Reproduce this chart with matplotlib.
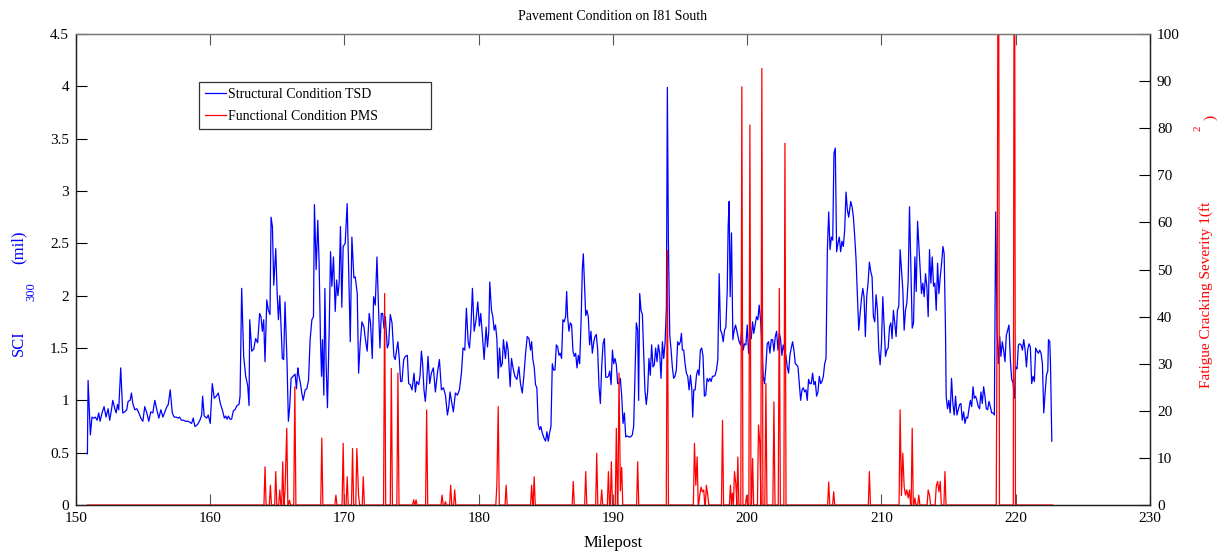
import numpy as np
import matplotlib
matplotlib.use('Agg')
import matplotlib.pyplot as plt

plt.rcParams['font.family'] = ['Liberation Serif', 'DejaVu Serif']
plt.rcParams['mathtext.fontset'] = 'custom'
plt.rcParams['mathtext.rm'] = 'Liberation Serif'
plt.rcParams['mathtext.it'] = 'Liberation Serif'

W, H = 1224, 556

# structural condition (TSD), SCI300 in mil
tsd_mile = [
    150.85, 150.90, 151.07, 151.19, 151.32, 151.44, 151.57, 151.69, 151.79, 151.94,
    152.09, 152.24, 152.39, 152.51, 152.64, 152.74, 152.89, 152.99, 153.09, 153.18,
    153.33, 153.48, 153.63, 153.78, 153.88, 154.03, 154.13, 154.23, 154.38, 154.53,
    154.68, 154.83, 154.98, 155.12, 155.27, 155.42, 155.57, 155.72, 155.87, 156.02,
    156.17, 156.32, 156.47, 156.62, 156.77, 156.87, 157.02, 157.17, 157.31, 157.46,
    157.61, 157.71, 157.86, 158.01, 158.16,
    158.36, 158.61, 158.73, 158.86, 159.06, 159.23, 159.36, 159.43, 159.55, 159.73,
    159.85, 160.00, 160.15, 160.30, 160.45, 160.60, 160.75, 160.90, 161.05, 161.15,
    161.25, 161.35, 161.47, 161.59, 161.72, 161.84, 161.99, 162.14, 162.22, 162.34,
    162.49, 162.64, 162.79, 162.89, 162.94, 163.09, 163.24, 163.38, 163.53, 163.68,
    163.78, 163.88, 163.98, 164.08, 164.21, 164.33, 164.45, 164.53, 164.63, 164.73,
    164.88, 164.98, 165.08, 165.18, 165.28, 165.37, 165.47, 165.57, 165.72, 165.82,
    165.92, 166.02, 166.17, 166.32, 166.42, 166.52,
    166.57, 166.72, 166.82, 166.92, 167.07, 167.19, 167.32, 167.44, 167.57, 167.69,
    167.76, 167.89, 168.01, 168.11, 168.21, 168.29, 168.36, 168.46, 168.54, 168.63,
    168.73, 168.86, 168.96, 169.06, 169.18, 169.31, 169.41, 169.51, 169.60, 169.70,
    169.80, 169.90, 170.05, 170.20, 170.30, 170.43, 170.55, 170.70, 170.80, 170.95,
    171.05, 171.17, 171.30, 171.45, 171.55, 171.69, 171.84, 171.94, 172.07, 172.17,
    172.29, 172.42, 172.54, 172.64, 172.74, 172.84, 172.94, 173.04, 173.19, 173.29,
    173.41, 173.54, 173.68, 173.78, 173.88, 173.98, 174.08, 174.18, 174.28, 174.41,
    174.53, 174.68, 174.78,
    174.90, 175.03, 175.18, 175.28, 175.38, 175.53, 175.63, 175.73, 175.82, 175.92,
    176.02, 176.12, 176.22, 176.35, 176.47, 176.62, 176.77, 176.92, 177.07, 177.22,
    177.37, 177.52, 177.67, 177.77, 177.86, 177.96, 178.11, 178.26, 178.41, 178.56,
    178.71, 178.83, 178.96, 179.08, 179.21, 179.31, 179.41, 179.53, 179.66, 179.80,
    179.93, 180.05, 180.15, 180.28, 180.40, 180.55, 180.65, 180.75, 180.82, 180.95,
    181.05, 181.15, 181.25, 181.35, 181.45, 181.55, 181.65, 181.75, 181.84, 181.99,
    182.09, 182.19, 182.34, 182.44, 182.54, 182.69, 182.84, 182.99,
    183.11, 183.24, 183.36, 183.49, 183.61, 183.74, 183.86, 183.94, 184.03, 184.13,
    184.23, 184.33, 184.43, 184.53, 184.63, 184.73, 184.86, 184.98, 185.08, 185.18,
    185.28, 185.38, 185.48, 185.58, 185.68, 185.78, 185.88, 185.98, 186.07, 186.17,
    186.27, 186.37, 186.47, 186.55, 186.62, 186.72, 186.82, 186.92, 187.02, 187.12,
    187.22, 187.32, 187.42, 187.52, 187.62, 187.72, 187.79, 187.87, 187.97, 188.06,
    188.16, 188.26, 188.36, 188.46, 188.56, 188.66, 188.76, 188.86, 188.96, 189.06,
    189.16, 189.26, 189.36, 189.46, 189.56, 189.66, 189.76, 189.86, 189.96, 190.05,
    190.15, 190.25, 190.35, 190.45, 190.55, 190.65, 190.75, 190.85, 190.95, 191.05,
    191.20,
    191.31, 191.44, 191.54, 191.64, 191.74, 191.84, 191.91, 191.99, 192.09, 192.19,
    192.29, 192.38, 192.48, 192.58, 192.68, 192.78, 192.88, 192.98, 193.08, 193.18,
    193.28, 193.38, 193.48, 193.58, 193.68, 193.78, 193.88, 193.98, 194.05, 194.13,
    194.23, 194.33, 194.42, 194.52, 194.62, 194.72, 194.82, 194.92, 195.02, 195.10,
    195.17, 195.27, 195.37, 195.47, 195.57, 195.67, 195.77, 195.87, 195.94, 196.02,
    196.12, 196.22, 196.32, 196.41, 196.51, 196.61, 196.71, 196.81, 196.91, 197.01,
    197.11, 197.21, 197.31, 197.41, 197.51, 197.61, 197.71, 197.81, 197.91, 198.01,
    198.11, 198.21, 198.31, 198.41, 198.51, 198.58, 198.65, 198.73, 198.83, 198.93,
    199.03, 199.13, 199.23, 199.35,
    199.40, 199.50, 199.60, 199.70, 199.80, 199.90, 200.00, 200.10, 200.20, 200.30,
    200.40, 200.49, 200.59, 200.69, 200.79, 200.89, 200.99, 201.09, 201.19, 201.29,
    201.39, 201.49, 201.59, 201.69, 201.79, 201.89, 201.99, 202.09, 202.19, 202.29,
    202.39, 202.48, 202.58, 202.68, 202.78, 202.88, 202.98, 203.08, 203.18, 203.28,
    203.38, 203.48, 203.58, 203.68, 203.78, 203.88, 203.98, 204.08, 204.18, 204.28,
    204.38, 204.47, 204.57, 204.67, 204.77, 204.87, 204.97, 205.07, 205.17, 205.27,
    205.37, 205.47, 205.57, 205.67, 205.77, 205.87, 205.97, 206.07, 206.17, 206.27,
    206.37, 206.46, 206.56, 206.66, 206.76, 206.86, 206.96, 207.06, 207.16, 207.26,
    207.36, 207.46, 207.56,
    207.71, 207.81, 207.91, 208.01, 208.11, 208.21, 208.31, 208.41, 208.51, 208.61,
    208.70, 208.80, 208.90, 209.00, 209.10, 209.20, 209.30, 209.40, 209.50, 209.60,
    209.70, 209.80, 209.90, 210.00, 210.10, 210.20, 210.30, 210.40, 210.50, 210.60,
    210.70, 210.79, 210.89, 210.99, 211.09, 211.19, 211.29, 211.39, 211.49, 211.59,
    211.69, 211.79, 211.89, 211.99, 212.09, 212.19, 212.29, 212.39, 212.49, 212.59,
    212.69, 212.78, 212.88, 212.98, 213.08, 213.18, 213.28, 213.38, 213.48, 213.58,
    213.68, 213.78, 213.88, 213.98, 214.08, 214.18, 214.28, 214.38, 214.48, 214.58,
    214.67, 214.77, 214.82, 214.92, 215.02, 215.12, 215.22, 215.32, 215.42, 215.52,
    215.62, 215.72,
    215.82, 215.92, 216.02, 216.12, 216.22, 216.32, 216.42, 216.52, 216.62, 216.72,
    216.82, 216.91, 217.01, 217.11, 217.21, 217.31, 217.41, 217.51, 217.61, 217.71,
    217.81, 217.91, 218.01, 218.11, 218.21, 218.31, 218.41, 218.51, 218.61, 218.71,
    218.81, 218.90, 219.00, 219.10, 219.20, 219.30, 219.40, 219.50, 219.60, 219.70,
    219.80, 219.90, 220.00, 220.10, 220.20, 220.30, 220.40, 220.50, 220.60, 220.70,
    220.80, 220.89, 220.99, 221.09, 221.19, 221.29, 221.39, 221.49, 221.59, 221.69,
    221.79, 221.89, 221.99, 222.09, 222.19, 222.29, 222.39, 222.44, 222.54, 222.59,
    222.69,
]
tsd_sci = [
    0.49, 1.19, 0.67, 0.84, 0.83, 0.84, 0.81, 0.88, 0.80, 0.88,
    0.94, 0.84, 0.92, 0.81, 0.91, 1.00, 0.92, 0.88, 0.96, 0.91,
    1.31, 0.88, 0.89, 0.91, 0.99, 1.00, 1.07, 0.97, 0.91, 0.92,
    0.88, 0.83, 0.80, 0.94, 0.88, 0.80, 0.89, 0.88, 1.00, 0.91,
    0.83, 0.91, 0.84, 0.89, 0.94, 0.96, 1.10, 0.88, 0.84, 0.84,
    0.83, 0.84, 0.81, 0.81, 0.80,
    0.80, 0.78, 0.83, 0.75, 0.77, 0.81, 0.86, 1.04, 0.85, 0.83,
    0.86, 0.78, 1.16, 1.02, 1.04, 1.07, 0.97, 0.91, 0.83, 0.85,
    0.82, 0.85, 0.82, 0.82, 0.90, 0.91, 0.95, 0.96, 1.04, 2.07,
    1.42, 1.23, 1.14, 0.95, 1.77, 1.47, 1.49, 1.59, 1.55, 1.83,
    1.80, 1.66, 1.77, 1.37, 1.96, 1.86, 1.82, 2.75, 2.66, 2.10,
    2.45, 2.03, 1.77, 2.00, 1.68, 1.40, 1.39, 1.94, 1.36, 0.80,
    0.94, 1.21, 1.23, 1.25, 1.11, 1.31,
    1.26, 1.16, 1.07, 1.00, 1.10, 1.11, 1.19, 1.58, 1.77, 1.80,
    2.87, 2.25, 2.72, 2.31, 1.58, 1.23, 1.58, 1.05, 2.07, 1.35,
    0.93, 1.67, 2.42, 2.09, 2.37, 1.85, 2.15, 2.00, 2.12, 2.66,
    1.89, 2.47, 2.50, 2.88, 2.31, 1.56, 2.56, 2.17, 2.18, 2.02,
    1.26, 1.54, 1.75, 1.70, 1.59, 1.47, 1.83, 1.74, 1.40, 1.99,
    1.91, 2.37, 1.86, 1.50, 1.83, 1.83, 1.69, 1.80, 1.50, 1.54,
    1.82, 1.74, 1.42, 1.39, 1.48, 1.56, 1.40, 1.18, 1.18, 1.39,
    1.42, 1.43, 1.16,
    1.15, 1.10, 1.26, 1.08, 1.18, 1.15, 1.24, 1.47, 1.35, 1.10,
    0.99, 1.16, 1.42, 1.16, 1.26, 1.31, 1.08, 1.26, 1.39, 1.10,
    1.12, 1.05, 0.86, 0.94, 1.08, 1.00, 0.89, 1.07, 1.05, 1.10,
    1.26, 1.50, 1.48, 1.88, 1.56, 1.50, 1.67, 2.07, 1.66, 1.77,
    1.94, 1.71, 1.83, 1.61, 1.39, 1.70, 1.51, 1.66, 2.13, 1.86,
    1.80, 1.67, 1.72, 1.59, 1.21, 1.50, 1.32, 1.35, 1.58, 1.40,
    1.56, 1.48, 1.13, 1.40, 1.32, 1.23, 1.20, 1.32,
    1.16, 1.07, 1.23, 1.45, 1.61, 1.59, 1.48, 1.56, 1.39, 1.32,
    1.15, 1.12, 0.77, 0.72, 0.75, 0.69, 0.64, 0.61, 0.70, 0.61,
    0.69, 0.75, 1.35, 1.29, 1.29, 1.53, 1.51, 1.43, 1.45, 1.40,
    1.77, 1.75, 1.80, 2.04, 1.80, 1.66, 1.74, 1.72, 1.47, 1.42,
    1.45, 1.31, 1.43, 1.35, 1.74, 2.26, 2.40, 2.13, 1.81, 1.86,
    1.80, 1.53, 1.66, 1.45, 1.55, 1.61, 1.63, 1.48, 1.13, 0.97,
    1.32, 1.54, 1.59, 1.22, 1.22, 1.23, 1.28, 1.15, 1.48, 1.35,
    1.40, 1.34, 1.16, 1.16, 1.21, 1.04, 0.78, 0.88, 0.65, 0.66,
    0.65,
    0.65, 0.67, 0.75, 1.23, 1.74, 1.67, 1.00, 2.02, 1.86, 1.82,
    1.45, 1.10, 0.96, 1.08, 1.40, 1.24, 1.53, 1.32, 1.34, 1.50,
    1.37, 1.53, 1.45, 1.21, 1.56, 1.40, 1.55, 1.89, 3.99, 2.50,
    1.62, 1.48, 1.32, 1.21, 1.23, 1.29, 1.56, 1.53, 1.56, 1.64,
    1.48, 1.48, 1.35, 1.26, 1.23, 1.10, 1.24, 1.11, 0.84, 1.10,
    1.10, 1.24, 1.29, 1.24, 1.48, 1.50, 1.42, 1.04, 1.05, 1.21,
    1.18, 1.21, 1.18, 1.23, 1.23, 1.24, 1.29, 1.39, 2.21, 1.67,
    1.64, 1.56, 1.67, 1.70, 2.05, 2.66, 2.90, 1.99, 2.60, 1.58,
    1.67, 1.72, 1.66, 1.59,
    1.56, 1.53, 1.70, 1.48, 1.54, 1.53, 1.72, 1.45, 1.58, 1.59,
    1.75, 1.64, 1.72, 1.80, 1.77, 1.91, 1.77, 1.56, 1.23, 1.16,
    1.32, 1.54, 1.56, 1.45, 1.58, 1.58, 1.47, 1.61, 1.66, 1.48,
    1.64, 1.59, 1.43, 1.53, 1.47, 1.43, 1.32, 1.26, 1.43, 1.50,
    1.56, 1.48, 1.35, 1.34, 1.32, 1.16, 1.00, 1.10, 1.12, 1.08,
    1.10, 1.00, 1.20, 1.16, 1.16, 1.26, 1.15, 1.18, 1.04, 1.08,
    1.23, 1.16, 1.18, 1.23, 1.35, 1.40, 2.44, 2.80, 2.44, 2.56,
    2.53, 3.36, 3.41, 2.42, 2.50, 2.56, 2.42, 2.52, 2.47, 2.63,
    2.99, 2.82, 2.75,
    2.90, 2.85, 2.75, 2.56, 2.34, 1.99, 1.67, 1.83, 1.97, 2.07,
    1.99, 1.61, 1.99, 2.12, 2.32, 2.23, 2.18, 1.80, 1.75, 2.01,
    1.86, 1.48, 1.34, 1.54, 1.99, 1.70, 1.42, 1.48, 1.50, 1.70,
    1.74, 1.59, 1.86, 1.74, 1.61, 1.86, 1.90, 2.44, 2.25, 2.06,
    1.67, 1.86, 1.93, 2.15, 2.85, 2.25, 1.69, 1.74, 2.37, 2.04,
    2.71, 2.50, 2.25, 2.02, 2.12, 1.99, 2.21, 2.09, 1.80, 2.44,
    2.12, 2.37, 2.09, 2.12, 1.86, 2.31, 2.02, 2.18, 2.31, 2.47,
    2.40, 1.67, 1.04, 0.92, 1.00, 0.88, 1.21, 0.97, 0.86, 1.04,
    0.86, 0.91,
    0.96, 0.97, 0.81, 0.89, 0.78, 0.84, 0.83, 0.92, 1.00, 0.94,
    1.13, 1.02, 1.04, 1.00, 0.94, 0.92, 1.08, 0.97, 1.13, 1.04,
    0.92, 0.91, 0.99, 0.94, 0.88, 0.88, 0.86, 2.80, 1.67, 1.35,
    1.61, 1.42, 1.56, 1.48, 1.37, 1.62, 1.67, 1.72, 1.39, 1.20,
    1.17, 1.02, 1.32, 1.30, 1.53, 1.54, 1.53, 1.48, 1.58, 1.48,
    1.32, 1.48, 1.54, 1.51, 1.16, 1.23, 1.18, 1.50, 1.47, 1.45,
    1.48, 1.45, 1.35, 0.88, 1.07, 1.24, 1.28, 1.58, 1.56, 1.35,
    0.61,
]

# functional condition (PMS), fatigue cracking severity 1 in ft^2
# only non-zero readings are listed, everything else sits on 0
pms_mile = [
    164.08, 164.48, 164.88, 165.18, 165.40, 165.57, 165.70, 165.90, 166.30,
    168.31, 169.36, 169.90, 170.20, 170.60, 170.92, 171.05, 171.40,
    172.99, 173.49, 173.98, 175.15, 175.33, 176.12, 177.27, 177.52, 177.91, 178.21,
    181.35, 181.45, 182.04, 183.94, 184.13, 187.04, 187.97, 188.79, 189.16,
    189.66, 189.88, 190.25, 190.45, 190.55, 190.65, 191.84, 194.05,
    196.07, 196.17, 196.27, 196.46, 196.56, 196.66, 196.76, 196.96, 197.06,
    198.16, 198.75, 198.90, 199.05, 199.15, 199.30, 199.60, 199.95,
    200.20, 200.40, 200.84, 200.94, 201.09, 201.39, 201.99, 202.39, 202.81,
    206.07, 206.44, 209.10, 211.39, 211.49, 211.59, 211.69, 211.79, 211.89,
    211.99, 212.09, 212.29, 212.49, 212.78, 213.48, 213.58, 214.08, 214.18,
    214.28, 214.38, 214.73, 218.63, 218.71, 219.90,
]
pms_crack = [
    8.1, 4.2, 7.1, 3.2, 9.2, 3.0, 16.3, 1.0, 25.1,
    14.2, 2.1, 13.1, 6.0, 12.0, 12.0, 2.0, 6.0,
    44.9, 29.0, 28.0, 1.1, 1.1, 20.2, 2.1, 0.7, 4.2, 3.2,
    4.2, 20.9, 4.2, 4.2, 6.0, 5.0, 7.1, 11.0, 3.2,
    7.1, 9.2, 16.3, 28.0, 3.0, 8.0, 9.2, 54.1,
    13.1, 4.2, 10.2, 2.0, 3.8, 2.8, 3.2, 4.2, 2.1,
    18.0, 4.2, 2.5, 7.1, 4.5, 10.2, 88.8, 2.0,
    80.7, 9.9, 17.0, 13.0, 92.7, 25.8, 21.9, 46.0, 76.8,
    4.9, 2.8, 7.1, 20.2, 2.0, 11.0, 3.9, 2.1, 3.2,
    1.5, 3.2, 16.3, 1.5, 2.1, 3.2, 2.1, 3.9, 5.0,
    2.8, 5.0, 7.1, 52.0, 160.0, 160.0,
]
pms_start = 150.85
pms_end = 222.75

x_ticks = [150, 160, 170, 180, 190, 200, 210, 220, 230]
left_ticks = [0, 0.5, 1, 1.5, 2, 2.5, 3, 3.5, 4, 4.5]
left_tick_labels = ['0', '0.5', '1', '1.5', '2', '2.5', '3', '3.5', '4', '4.5']
right_ticks = [0, 10, 20, 30, 40, 50, 60, 70, 80, 90, 100]


def with_baseline(miles, vals, start, end, half=0.08):
    # readings are 0.1 mi apart, isolated ones drop back to zero on both sides
    xs = [start]
    ys = [0]
    n = len(miles)
    for i in range(n):
        if i == 0 or miles[i] - miles[i - 1] > 0.15:
            xs.append(miles[i] - half)
            ys.append(0)
        xs.append(miles[i])
        ys.append(vals[i])
        if i == n - 1 or miles[i + 1] - miles[i] > 0.15:
            xs.append(miles[i] + half)
            ys.append(0)
    xs.append(end)
    ys.append(0)
    return xs, ys


def pix_text(fig, x, y, s, **kw):
    # place a text piece by pixel position (origin top-left)
    fig.text(x / W, 1 - y / H, s, ha='center', va='center', rotation=90, **kw)


def main():
    fig = plt.figure(figsize=(W / 100, H / 100), dpi=100)
    ax1 = fig.add_axes([0.0621, 0.0917, 0.8774, 0.8471])
    ax2 = ax1.twinx()

    l1, = ax1.plot(tsd_mile, tsd_sci, color='#0000ff', lw=0.9,
                   label='Structural Condition TSD')
    rx, ry = with_baseline(pms_mile, pms_crack, pms_start, pms_end)
    l2, = ax2.plot(rx, ry, color='#ff0000', lw=0.9,
                   label='Functional Condition PMS')

    ax1.set_xlim(150, 230)
    ax1.set_ylim(0, 4.5)
    ax2.set_ylim(0, 100)
    ax1.set_xticks(x_ticks)
    ax1.set_yticks(left_ticks)
    ax1.set_yticklabels(left_tick_labels)
    ax2.set_yticks(right_ticks)

    ax1.tick_params(axis='x', direction='in', top=True, length=8,
                    labelsize=11, pad=5, color='#555555')
    ax1.tick_params(axis='y', direction='in', left=True, right=False,
                    length=8, labelsize=11, pad=5)
    ax2.tick_params(axis='y', direction='in', length=8, labelsize=11, pad=5)

    for ax in (ax1, ax2):
        for s in ax.spines.values():
            s.set_linewidth(0.9)
            s.set_color('#222222')
    ax1.spines['top'].set_color('#777777')
    ax2.spines['top'].set_color('#777777')

    ax1.set_title('Pavement Condition on I81 South', fontsize=10, pad=10)
    ax1.set_xlabel('Milepost', fontsize=12, labelpad=7)

    # axis labels rendered in pieces, the way the original lays them out
    pix_text(fig, 19, 343, 'SCI', fontsize=12, color='#0000ff')
    pix_text(fig, 31, 292, '300', fontsize=9, color='#0000ff')
    pix_text(fig, 19, 247, '(mil)', fontsize=12, color='#0000ff')
    pix_text(fig, 1206, 295, 'Fatigue Cracking Severity 1(ft', fontsize=11,
             color='#ff0000')
    pix_text(fig, 1198, 128, '2', fontsize=8, color='#ff0000')
    pix_text(fig, 1211, 117, ')', fontsize=11, color='#ff0000')

    leg = ax2.legend(handles=[l1, l2], loc='upper left', mode='expand',
                     bbox_to_anchor=(0.1145, 0.798, 0.216, 0.1), fontsize=10,
                     fancybox=False, framealpha=1, edgecolor='#333333',
                     handlelength=1.5, handletextpad=0.15,
                     borderpad=0.45, labelspacing=0.6, borderaxespad=0)
    leg.get_frame().set_linewidth(0.9)

    fig.savefig('out.png', dpi=100)
    plt.close(fig)


if __name__ == '__main__':
    main()
